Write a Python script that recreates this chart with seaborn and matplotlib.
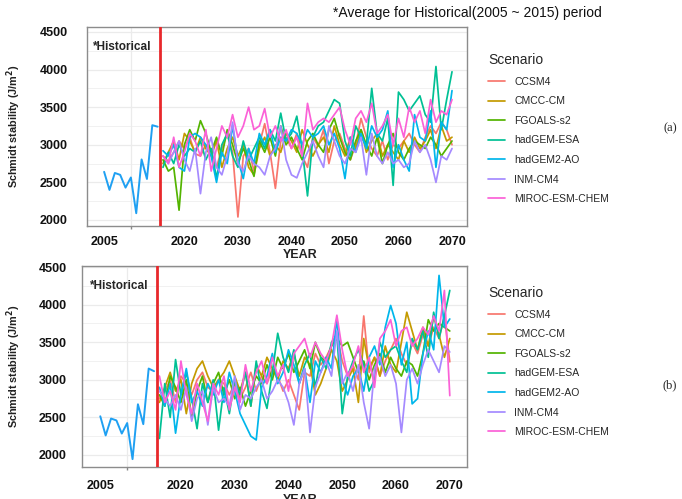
import numpy as np
import pandas as pd
import matplotlib
matplotlib.use("Agg")
import matplotlib.pyplot as plt
import seaborn as sns

# ---------------- data ----------------
scenarios = ["CCSM4", "CMCC-CM", "FGOALS-s2", "hadGEM-ESA", "hadGEM2-AO", "INM-CM4", "MIROC-ESM-CHEM"]
palette = ["#F8766D", "#C49A00", "#53B400", "#00C094", "#00B6EB", "#A58AFF", "#FB61D7"]
hist_years = list(range(2005, 2016))
future_years = list(range(2016, 2071))
x_tick_labels = ["2005", "2020", "2030", "2040", "2050", "2060", "2070"]
x_tick_values = [2005, 2020, 2030, 2040, 2050, 2060, 2070]
y_tick_values = [2000, 2500, 3000, 3500, 4000, 4500]

hist_a = [2640, 2400, 2625, 2600, 2430, 2565, 2090, 2805, 2545, 3260, 3240]
hist_b = [2515, 2260, 2485, 2460, 2285, 2425, 1945, 2675, 2410, 3150, 3115]

ccsm4_a = [2850, 2780, 2900, 3050, 2950, 3100, 2880, 2850, 3000, 2900,
           2700, 2950, 3150, 2900, 2040, 2850, 2950, 2650, 3000, 3280,
           2900, 2420, 3050, 3100, 2950, 3150, 2850, 2700, 3100, 2980,
           3200, 2750, 3050, 3150, 2950, 2800, 3000, 3350, 3100, 2950,
           2850, 3050, 2800, 3000, 2950, 3050, 3150, 3000, 2900, 3100,
           3250, 3150, 3300, 3200, 3000]
cmcc_a = [2750, 2900, 3050, 2800, 3150, 3050, 2900, 3100, 2950, 2850,
          3050, 2700, 2950, 3100, 2850, 3000, 2700, 2600, 2950, 3100,
          2850, 3000, 2900, 3150, 3050, 2900, 3200, 3000, 2850, 3000,
          3100, 2900, 3250, 3000, 2850, 3100, 2950, 3200, 2900, 3050,
          3150, 2850, 3000, 2900, 2800, 3050, 2900, 3100, 2950, 3050,
          3200, 2950, 3250, 3050, 3100]
fgoals_a = [2800, 2650, 2700, 2130, 3000, 3200, 3050, 3320, 3150, 2900,
            3100, 2850, 3200, 3000, 2750, 2950, 2800, 2580, 3050, 2900,
            3100, 2850, 3250, 3000, 3100, 2950, 2800, 3050, 3150, 3000,
            2900, 3200, 3350, 3100, 2900, 2800, 3050, 3200, 3000, 2850,
            3100, 2750, 3000, 3150, 2900, 2800, 2950, 3050, 3000, 2950,
            3100, 3000, 2850, 2950, 3050]
esa_a = [2700, 2900, 2750, 3000, 2850, 2950, 2900, 3050, 2800, 2950,
         2550, 3000, 3150, 2850, 2700, 3050, 2800, 2950, 3100, 2950,
         3200, 3050, 3420, 3050, 3150, 3380, 2950, 2320, 3100, 3250,
         3300, 3450, 3600, 3550, 3050, 2850, 3250, 3100, 3000, 3750,
         3150, 3050, 3350, 2460, 3700, 3600, 3450, 3550, 3650, 3400,
         3300, 4040, 3200, 3600, 3970]
ao_a = [2920, 2850, 3000, 2700, 2650, 3100, 3150, 3100, 3000, 2850,
        2500, 2900, 2750, 3250, 2800, 2550, 2950, 2750, 3150, 3000,
        3200, 2900, 3100, 3050, 3200, 3150, 3000, 3200, 3100, 3150,
        3250, 3000, 3150, 2950, 2550, 3100, 2900, 3150, 2950, 3250,
        3100, 3200, 3450, 2700, 3000, 2800, 2650, 3400, 3100, 3050,
        3450, 2700, 3300, 3200, 3720]
inm_a = [2850, 2750, 2900, 3050, 2800, 2650, 2950, 2350, 2900, 3100,
         2700, 2600, 2850, 3300, 2750, 2650, 2850, 2750, 2700, 2600,
         2850, 2950, 3250, 2800, 2600, 2560, 2750, 2900, 3050, 2850,
         2700, 3250, 3050, 2850, 2750, 2950, 2900, 3100, 2600, 3150,
         2850, 2750, 2900, 2750, 2800, 2700, 2750, 3050, 2900, 3000,
         2800, 2500, 2850, 2800, 2950]
miroc_a = [2850, 2750, 3100, 2700, 2900, 3150, 3050, 2850, 3200, 2650,
           2950, 3250, 3100, 3400, 3100, 3250, 3500, 3200, 3250, 3480,
           3100, 3250, 3050, 3200, 2950, 3100, 2850, 3550, 3200, 3300,
           3350, 3300, 3400, 3500, 3200, 3000, 3350, 3450, 3300, 3550,
           3150, 3250, 3400, 3000, 3350, 3100, 3500, 3300, 3450, 3150,
           3600, 3300, 3450, 3400, 3600]

ccsm4_b = [2750, 2850, 3000, 2700, 3050, 2950, 2800, 3000, 3100, 2900,
           2850, 3000, 2950, 2800, 2950, 2750, 2900, 3100, 2850, 3050,
           2950, 3150, 3050, 2850, 3000, 2800, 2600, 3100, 3050, 3350,
           3200, 3300, 3450, 3600, 3250, 3050, 3200, 3000, 3850, 3100,
           3300, 3050, 3250, 3400, 3550, 3350, 3200, 3500, 3350, 3600,
           3450, 3700, 3550, 3850, 3240]
cmcc_b = [2700, 2900, 3100, 2850, 3000, 2550, 2950, 3150, 3250, 3050,
          2900, 3000, 3100, 3250, 3050, 2850, 3100, 2650, 3200, 3050,
          3300, 3150, 3000, 3250, 3150, 3350, 3050, 3300, 3200, 2800,
          2950, 3150, 3400, 3250, 2850, 3000, 3150, 2700, 3550, 3150,
          3300, 3050, 3450, 3200, 3100, 3500, 3900, 3650, 3400, 3700,
          3450, 3850, 3600, 3300, 3550]
fgoals_b = [2800, 2650, 3050, 2900, 2700, 3000, 2500, 2850, 3050, 2700,
            2950, 3100, 2800, 3000, 2750, 2900, 2650, 2850, 3050, 2950,
            3200, 3000, 3300, 3150, 3350, 3100, 3250, 3400, 3150, 3500,
            3300, 3250, 3450, 3550, 3450, 3500, 3300, 3100, 3250, 3000,
            3200, 3350, 3100, 3300, 3150, 3050, 3250, 3200, 3050, 3350,
            3800, 3650, 3750, 3700, 3650]
esa_b = [2220, 2950, 2500, 3270, 2800, 3100, 2750, 2350, 2950, 2700,
         3000, 2330, 2900, 2550, 3000, 2800, 3100, 2650, 3250, 2850,
         2620, 3100, 3620, 3300, 3100, 3400, 2950, 3200, 3350, 2900,
         3300, 3150, 3500, 3600, 2550, 3050, 3250, 3400, 3200, 2850,
         3000, 3500, 3300, 3400, 3450, 3250, 3100, 3550, 3400, 3650,
         3300, 3900, 3550, 3850, 4190]
ao_b = [2900, 2650, 2950, 2290, 2800, 3150, 2700, 2850, 2650, 2950,
        2800, 3000, 2700, 3100, 2850, 2550, 2400, 2250, 2200, 2900,
        3050, 3350, 2950, 3100, 3400, 3200, 2950, 3150, 2700, 3250,
        3100, 3300, 3150, 3820, 3000, 2800, 3050, 3150, 2850, 3300,
        3450, 3200, 3700, 3990, 3750, 3200, 3500, 2680, 2750, 3350,
        3650, 3400, 4390, 3700, 3810]
inm_b = [2850, 2750, 2650, 2800, 2600, 2900, 2450, 2750, 2850, 2400,
         2900, 2700, 2750, 2650, 3050, 2600, 2800, 2750, 2900, 3000,
         2750, 2850, 3000, 2900, 2700, 2400, 2950, 3150, 2300, 2900,
         3100, 3250, 3050, 3650, 2950, 3100, 2850, 3200, 2700, 2350,
         3150, 3300, 3050, 3200, 2950, 2300, 3000, 3150, 2950, 3200,
         3400, 3250, 3100, 3450, 3370]
miroc_b = [3050, 2700, 2850, 2600, 3250, 2800, 2550, 2950, 2700, 2450,
           2950, 2800, 3050, 2600, 2900, 2700, 3200, 2850, 3100, 3250,
           2950, 3300, 3050, 3200, 2850, 3350, 3450, 3550, 3300, 3500,
           3350, 3250, 3450, 3860, 3400, 3050, 3200, 3450, 3100, 3300,
           2900, 3550, 3650, 3800, 3450, 3650, 3700, 3450, 3550, 3700,
           3600, 3850, 3650, 4190, 2790]

series_a = [ccsm4_a, cmcc_a, fgoals_a, esa_a, ao_a, inm_a, miroc_a]
series_b = [ccsm4_b, cmcc_b, fgoals_b, esa_b, ao_b, inm_b, miroc_b]

# ---------------- style ----------------
sns.set_theme(style="white")
plt.rcParams["font.family"] = ["Liberation Sans", "DejaVu Sans"]

HIST_COLOR = "#1FA0F2"
RED = "#E8282B"
GRID = "#EBEBEB"

W, H = 682, 499
fig = plt.figure(figsize=(W / 100, H / 100), dpi=100)


def frac_rect(left, top, right, bottom):
    return [left / W, 1 - bottom / H, (right - left) / W, (bottom - top) / H]


def draw_panel(rect, hist, series, ylim, xlim, ypad, xpad, leg_xy, year_top):
    ax = fig.add_axes(rect)
    ax.set_facecolor("white")
    dfh = pd.DataFrame({"YEAR": hist_years, "value": hist})
    rows = []
    for name, vals in zip(scenarios, series):
        for yr, v in zip(future_years, vals):
            rows.append((name, yr, v))
    dff = pd.DataFrame(rows, columns=["Scenario", "YEAR", "value"])

    sns.lineplot(data=dfh, x="YEAR", y="value", color=HIST_COLOR, lw=1.4,
                 ax=ax, legend=False)
    sns.lineplot(data=dff, x="YEAR", y="value", hue="Scenario",
                 hue_order=scenarios, palette=palette, lw=1.25, ax=ax)
    ax.axvline(2015.5, color=RED, lw=2.0, zorder=5)

    ax.set_xlim(*xlim)
    ax.set_ylim(*ylim)

    ax.set_axisbelow(True)
    ax.set_yticks(y_tick_values)
    ax.set_yticklabels([str(v) for v in y_tick_values], fontweight="bold")
    ax.set_yticks([2250, 2750, 3250, 3750, 4250], minor=True)
    ax.set_xticks(x_tick_values)
    ax.set_xticklabels(x_tick_labels, fontweight="bold")
    ax.set_xticks([2010, 2020, 2030, 2040, 2050, 2060, 2070], minor=True)
    ax.grid(False)
    ax.grid(True, axis="y", which="major", color=GRID, lw=0.9)
    ax.grid(True, axis="y", which="minor", color=GRID, lw=0.5)
    ax.grid(True, axis="x", which="minor", color=GRID, lw=0.9)
    ax.tick_params(axis="both", which="major", length=0, labelsize=9,
                   labelcolor="#111111")
    ax.tick_params(axis="y", which="major", pad=ypad)
    ax.tick_params(axis="x", which="major", pad=xpad)
    ax.tick_params(axis="y", which="minor", length=0)
    ax.tick_params(axis="x", which="minor", length=2, color="#888888",
                   bottom=True)
    for s in ax.spines.values():
        s.set_color("#8C8C8C")
        s.set_linewidth(1.0)

    ax.set_ylabel("Schmidt stability (J/m$^\\mathbf{2}$)", fontweight="bold",
                  fontsize=7.8, color="#222222")
    ax.yaxis.set_label_coords((23 - rect[0] * W) / (rect[2] * W), 0.5)
    ax.set_xlabel("YEAR", fontweight="bold", fontsize=9, color="#222222")
    axh = rect[3] * H
    ax.xaxis.set_label_coords((300 - rect[0] * W) / (rect[2] * W),
                              -(year_top - (H - (rect[1] * H))) / axh)
    ax.xaxis.label.set_va("top")

    ax.text(2003.0, ylim[1] - 0.10 * (ylim[1] - ylim[0]), "*Historical",
            fontweight="bold", fontsize=8.5,
            family=["Liberation Sans Narrow", "Liberation Sans", "DejaVu Sans"],
            va="center", ha="left")

    sns.move_legend(ax, "upper left", bbox_to_anchor=leg_xy,
                    bbox_transform=fig.transFigure, frameon=False,
                    title="Scenario", fontsize=7.5, title_fontsize=10,
                    handlelength=1.65, handletextpad=0.85, labelspacing=0.92,
                    borderaxespad=0, borderpad=0, alignment="left")
    return ax


ax_a = draw_panel(frac_rect(87, 27, 467, 226), hist_a, series_a,
                  (1920, 4565), (2001.8, 2072.8), 14, 7.5,
                  (488 / W, 1 - 53 / H), 249)
ax_b = draw_panel(frac_rect(82, 266, 467, 467), hist_b, series_b,
                  (1840, 4515), (2001.6, 2073.2), 11, 9.5,
                  (488 / W, 1 - 286 / H), 494)

fig.text(333 / W, 1 - 13 / H, "*Average for Historical(2005 ~ 2015) period",
         family=["Liberation Sans Narrow", "Liberation Sans", "DejaVu Sans"],
         fontsize=10, va="center", ha="left", color="#111111")
fig.text(670 / W, 1 - 128 / H, "(a)", family=["Liberation Serif", "DejaVu Serif"],
         fontsize=9, ha="center", va="center")
fig.text(670 / W, 1 - 385 / H, "(b)", family=["Liberation Serif", "DejaVu Serif"],
         fontsize=9, ha="center", va="center")

fig.savefig("out.png", dpi=100)
